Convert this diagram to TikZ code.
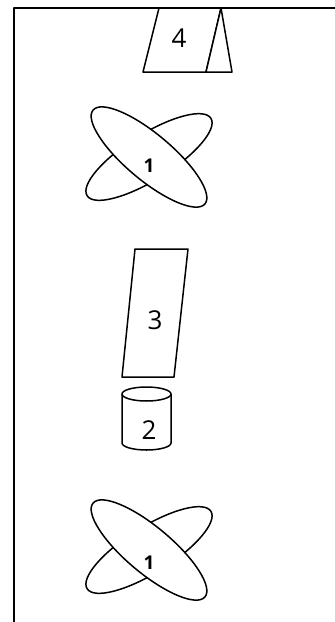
\documentclass[tikz,border=0pt]{standalone}
\usepackage{fontspec}
\setmainfont{Open Sans}
\usetikzlibrary{shapes.geometric, positioning}

\begin{document}
\begin{tikzpicture}[
    x=1pt, y=-1pt,
    line join=round,
    % styles
    frame/.style={line width=2pt},
    outline/.style={draw=black, line width=1.5pt, fill=white},
    orbit/.style={ellipse, draw=black, line width=1.5pt, fill=white, minimum width=146pt, minimum height=46pt, inner sep=0pt},
    numlabel/.style={font=\fontsize{26}{26}\selectfont, inner sep=0pt},
    smallnum/.style={font=\fontsize{19}{19}\selectfont\bfseries, inner sep=0pt}
]
    \useasboundingbox (0,0) rectangle (335,622);

    % --- frame ---
    \draw[frame] (14,622) -- (14,8) -- (335,8);

    % --- shape 4 ---
    \draw[outline] (159,8) -- (221,8) -- (206,72) -- (143,72) -- cycle;
    \draw[outline] (221,8) -- (232,72) -- (206,72) -- cycle;
    \node (four) [numlabel] at (179,38) {4};

    % --- upper cross ---
    \node (orbitA2) [orbit, rotate=32] at (149,157) {};
    \node (orbitA1) [orbit, rotate=-40] at (149,157) {};
    \node (oneA) [smallnum] at (149,166) {1};

    % --- shape 3 ---
    \draw[outline] (135,249) -- (188,249) -- (174,377) -- (122,377) -- cycle;
    \node (three) [numlabel] at (155,320) {3};

    % --- cylinder 2 ---
    \draw[outline] (122,394) -- (122,443) arc[start angle=180, end angle=0, x radius=24.5, y radius=7] -- (171,394);
    \draw[outline] (146.5,394) ellipse[x radius=24.5, y radius=7];
    \node (two) [numlabel] at (149,430) {2};

    % --- lower cross ---
    \node (orbitB2) [orbit, rotate=32] at (149,550) {};
    \node (orbitB1) [orbit, rotate=-40] at (149,550) {};
    \node (oneB) [smallnum] at (149,563) {1};

\end{tikzpicture}
\end{document}
